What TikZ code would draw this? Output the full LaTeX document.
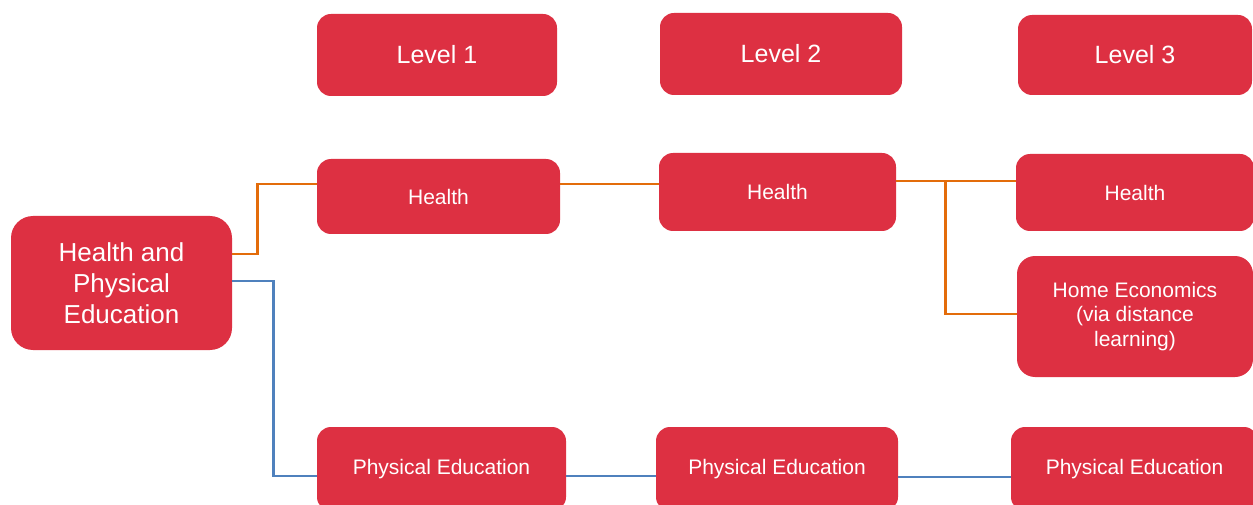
\documentclass[tikz,border=0pt]{standalone}
\usepackage{fontspec}
\setmainfont{Liberation Sans}
\definecolor{boxred}{RGB}{221,48,66}
\definecolor{hline}{RGB}{227,108,10}
\definecolor{peline}{RGB}{79,129,189}
\begin{document}
\begin{tikzpicture}[x=1pt, y=-1pt,
		box/.style={fill=boxred, text=white, rounded corners=14pt, align=center, inner sep=0pt},
		small/.style={font=\fontsize{21}{24.5}\selectfont},
		big/.style={font=\fontsize{25}{30}\selectfont},
		healthline/.style={draw=hline, line width=2.6pt},
		peduline/.style={draw=peline, line width=2.6pt}]
		\useasboundingbox (0,0) rectangle (1253,505);
		\node[box, big, minimum width=240pt, minimum height=82pt] (levelone) at (437,55) {Level 1};
		\node[box, big, minimum width=242pt, minimum height=82pt] (leveltwo) at (781,54) {Level 2};
		\node[box, big, minimum width=234pt, minimum height=80pt] (levelthree) at (1135,55) {Level 3};
		\node[box, font=\fontsize{26}{31}\selectfont, rounded corners=22pt, minimum width=221pt, minimum height=134pt] (hpe) at (121.5,283) {Health and\\Physical\\Education};
		\node[box, small, minimum width=243pt, minimum height=75pt] (hone) at (438.5,196.5) {Health};
		\node[box, small, minimum width=237pt, minimum height=78pt] (htwo) at (777.5,192) {Health};
		\node[box, small, minimum width=238pt, minimum height=77pt] (hthree) at (1135,192.5) {Health};
		\node[box, small, rounded corners=18pt, minimum width=236pt, minimum height=121pt] (homeec) at (1135,316.5) {Home Economics\\(via distance\\learning)};
		\node[box, small, minimum width=249pt, minimum height=84pt] (peone) at (441.5,469) {Physical Education};
		\node[box, small, minimum width=242pt, minimum height=84pt] (petwo) at (777,469) {Physical Education};
		\node[box, small, minimum width=247pt, minimum height=84pt] (pethree) at (1134.5,469) {Physical Education};
		% health branch
		\draw[healthline] ([yshift=29pt]hpe.east) -- ++(25,0) |- ([yshift=12.5pt]hone.west);
		\draw[healthline] ([yshift=12.5pt]hone.east) -- ([yshift=8pt]htwo.west);
		\draw[healthline] ([yshift=11pt]htwo.east) -- ([yshift=11.5pt]hthree.west);
		\draw[healthline] ([yshift=11pt]htwo.east) -- ++(49,0) |- ([yshift=2.5pt]homeec.west);
		% physical education branch
		\draw[peduline] ([yshift=2pt]hpe.east) -- ++(41,0) |- ([yshift=-7pt]peone.west);
		\draw[peduline] ([yshift=-7pt]peone.east) -- ([yshift=-7pt]petwo.west);
		\draw[peduline] ([yshift=-8pt]petwo.east) -- ([yshift=-8pt]pethree.west);
\end{tikzpicture}
\end{document}
